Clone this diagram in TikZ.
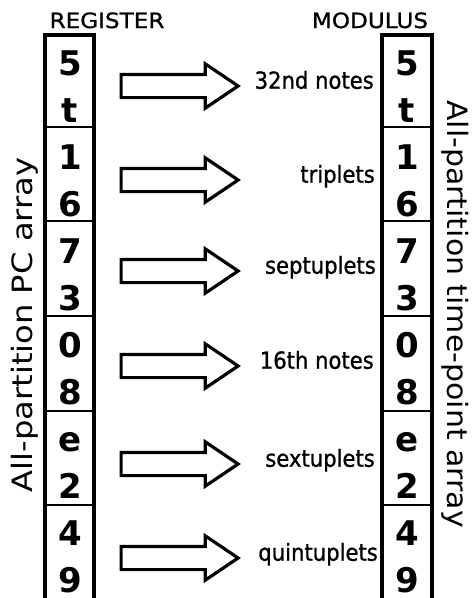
\documentclass[tikz,border=0pt]{standalone}
\usepackage{fontspec}
\usepackage{graphicx}
\setmainfont{DejaVu Sans}
\newfontfamily\durfamily{DejaVu Sans}[FakeStretch=0.9,FakeBold=1]
\newfontfamily\headfamily{DejaVu Sans}[FakeStretch=1.1,FakeBold=1]
\usetikzlibrary{matrix,shapes.arrows}
\newcommand{\cellfont}{\fontsize{34}{34}\selectfont\bfseries}
\newcommand{\durfont}{\durfamily\fontsize{23.5}{23.5}\selectfont}
\newcommand{\headfont}{\headfamily\fontsize{21}{21}\selectfont}
\newcommand{\sidefont}{\fontsize{28}{28}\selectfont}

\begin{document}
\begin{tikzpicture}[x=1pt,y=-1pt,
    digitcol/.style={matrix of nodes,anchor=north,inner sep=0pt,row sep=22pt,
      nodes={font=\cellfont,text height=25pt,text depth=0pt,inner sep=0pt}},
    colframe/.style={line width=4pt},
    cellsep/.style={line width=2.6pt},
    blockarrow/.style={single arrow,draw,line width=3.2pt,anchor=tail,
      inner xsep=0pt,inner ysep=10pt,minimum height=117pt,
      single arrow head extend=10.5pt,single arrow tip angle=68},
    durlabel/.style={font=\durfont,anchor=mid east,inner sep=0pt},
    headlabel/.style={font=\headfont,anchor=base,inner sep=0pt},
    sidelabel/.style={font=\sidefont,inner sep=0pt}]
  \useasboundingbox (0,0) rectangle (472,598);

  \matrix (reg) [digitcol] at (70,50)
  {
    5 \\ t \\ 1 \\ 6 \\ 7 \\ 3 \\ 0 \\ 8 \\ e \\ 2 \\ 4 \\ 9 \\
  };
  \matrix (mod) [digitcol] at (407,50)
  {
    5 \\ t \\ 1 \\ 6 \\ 7 \\ 3 \\ 0 \\ 8 \\ e \\ 2 \\ 4 \\ 9 \\
  };

  \draw[colframe] (45,598) |- (94,35) -- (94,598);
  \draw[colframe] (382,598) |- (432,35) -- (432,598);
  \draw[cellsep]
    (45,127) -- (94,127) (45,221) -- (94,221) (45,316) -- (94,316)
    (45,411) -- (94,411) (45,505) -- (94,505);
  \draw[cellsep]
    (382,127) -- (432,127) (382,221) -- (432,221) (382,316) -- (432,316)
    (382,411) -- (432,411) (382,505) -- (432,505);

  \node[headlabel] (reghead) at (107,28) {REGISTER};
  \node[headlabel] (modhead) at (370,28) {MODULUS};

  \node[sidelabel,rotate=90] (pclabel) at (25,325) {\scalebox{1.15}[1]{All-partition PC array}};
  \node[sidelabel,rotate=-90] (tplabel) at (455,314) {\scalebox{1.07}[1]{All-partition time-point array}};

  \node[blockarrow] (arr1) at (119.5,86) {};
  \node[blockarrow] (arr2) at (119.5,180) {};
  \node[blockarrow] (arr3) at (119.5,271) {};
  \node[blockarrow] (arr4) at (119.5,366) {};
  \node[blockarrow] (arr5) at (119.5,464) {};
  \node[blockarrow] (arr6) at (119.5,558) {};

  \node[durlabel] (dur1) at (374,86) {32nd notes};
  \node[durlabel] (dur2) at (375,180) {triplets};
  \node[durlabel] (dur3) at (376,271) {septuplets};
  \node[durlabel] (dur4) at (374,366) {16th notes};
  \node[durlabel] (dur5) at (375,464) {sextuplets};
  \node[durlabel] (dur6) at (378,558) {quintuplets};
\end{tikzpicture}
\end{document}
